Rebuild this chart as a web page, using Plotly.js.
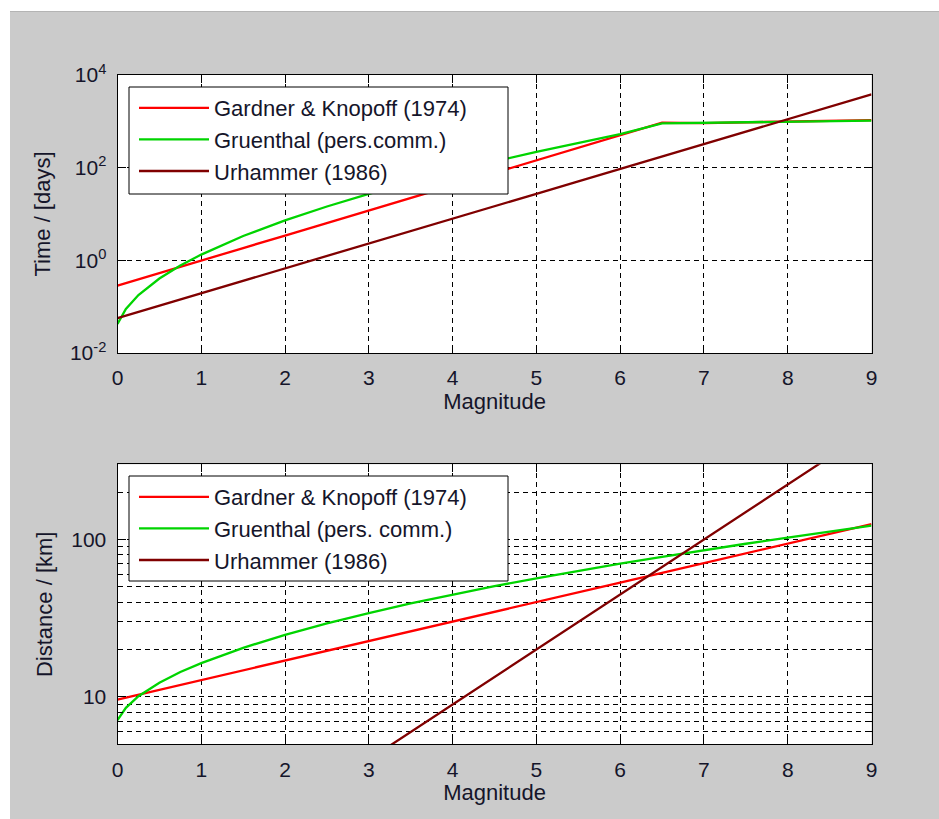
<!DOCTYPE html>
<html><head><meta charset="utf-8">
<script src="https://cdn.plot.ly/plotly-3.0.1.min.js"></script>
<style>
html,body{margin:0;padding:0;background:#ffffff;width:939px;height:819px;overflow:hidden}
#chart{position:absolute;left:10px;top:11px;width:929px;height:808px;border-top:1px solid #b4b4b4;box-sizing:border-box}
</style></head><body><div id="chart"></div>
<script>
// Magnitude samples (x axis)
const magnitude = [0, 0.1, 0.25, 0.5, 0.75, 1, 1.5, 2, 2.5, 3, 3.5, 4, 4.5, 5, 5.5, 6, 6.5, 7, 7.5, 8, 8.5, 9];
// Time window [days]
const gkTime = [0.284, 0.321, 0.388, 0.529, 0.723, 0.986, 1.84, 3.43, 6.39, 11.9, 22.2, 41.4, 77.1, 144, 268, 499, 931, 918, 953, 988, 1025, 1064];
const gruTime = [0.0423, 0.0892, 0.178, 0.405, 0.770, 1.33, 3.35, 7.30, 14.5, 27.2, 48.2, 82.3, 136, 219, 344, 531, 904, 929, 955, 982, 1009, 1038];
const urhTime = [0.0567, 0.0642, 0.0772, 0.105, 0.143, 0.195, 0.362, 0.670, 1.24, 2.31, 4.27, 7.93, 14.7, 27.3, 50.5, 93.7, 174, 322, 597, 1108, 2054, 3809];
// Distance window [km]
const gkDist = [9.62, 9.90, 10.3, 11.1, 11.9, 12.8, 14.8, 17.0, 19.6, 22.6, 26.1, 30.1, 34.7, 40.0, 46.1, 53.2, 61.3, 70.7, 81.6, 94.1, 108.5, 125.1];
const gruDist = [7.12, 8.52, 10.1, 12.3, 14.4, 16.4, 20.5, 24.8, 29.3, 34.1, 39.2, 44.7, 50.5, 56.6, 63.2, 70.2, 77.6, 85.6, 93.9, 102.8, 112.3, 122.2];
const urhDist = [0.359, 0.389, 0.439, 0.537, 0.656, 0.803, 1.20, 1.79, 2.68, 4.01, 5.99, 8.95, 13.4, 20.0, 29.9, 44.7, 66.8, 99.9, 149.3, 223.2, 333.6, 498.7];

const seriesNames = ['Gardner & Knopoff (1974)', 'Gruenthal (pers.comm.)', 'Urhammer (1986)'];
const seriesNames2 = ['Gardner & Knopoff (1974)', 'Gruenthal (pers. comm.)', 'Urhammer (1986)'];
const seriesColors = ['#ff0000', '#00d400', '#800000'];

const xTicks = [0, 1, 2, 3, 4, 5, 6, 7, 8, 9];
const timeTicks = [0.01, 1, 100, 10000];
const timeTickText = ['10<sup>-2</sup>', '10<sup>0</sup>', '10<sup>2</sup>', '10<sup>4</sup>'];
const distTicks = [10, 100];
const distTickText = ['10', '100'];
const distMinor = [6, 7, 8, 9, 20, 30, 40, 50, 60, 70, 80, 90, 200];

const W = 929, H = 808;
const px = v => v / W;
const py = v => 1 - v / H;
const xDom = [107.5 / W, 861.5 / W];

const topY = [gkTime, gruTime, urhTime];
const botY = [gkDist, gruDist, urhDist];
const traces = [];
topY.forEach((ys, i) => traces.push({
  x: magnitude, y: ys, type: 'scatter', mode: 'lines', name: seriesNames[i],
  line: {color: seriesColors[i], width: 2.3}, xaxis: 'x', yaxis: 'y', legend: 'legend'
}));
botY.forEach((ys, i) => traces.push({
  x: magnitude, y: ys, type: 'scatter', mode: 'lines', name: seriesNames2[i],
  line: {color: seriesColors[i], width: 2.3}, xaxis: 'x2', yaxis: 'y2', legend: 'legend2'
}));

const axBase = {
  showline: true, linecolor: '#000', linewidth: 1, mirror: 'ticks',
  ticks: 'inside', ticklen: 8, tickcolor: '#000', tickwidth: 1,
  showgrid: true, gridcolor: '#000', gridwidth: 1, griddash: '5px,4px',
  zeroline: false, tickfont: {size: 21, color: '#15152a'}
};
const xAx = (anchor) => Object.assign({}, axBase, {
  domain: xDom, anchor: anchor, range: [0, 9], tickmode: 'array', tickvals: xTicks,
  ticklabelstandoff: 6,
  title: {text: 'Magnitude', font: {size: 22, color: '#15152a'}, standoff: 5}
});

const legendBase = {
  xanchor: 'left', yanchor: 'top', bgcolor: 'rgba(0,0,0,0)', borderwidth: 0,
  font: {size: 22, color: '#15152a'}, itemwidth: 70, tracegroupgap: 0
};

const layout = {
  width: W, height: H, margin: {l: 0, r: 0, t: 0, b: 0},
  paper_bgcolor: '#cbcbcb', plot_bgcolor: '#ffffff',
  font: {family: 'Liberation Sans, Arial, sans-serif', size: 21, color: '#15152a'},
  showlegend: true,
  xaxis: xAx('y'),
  yaxis: Object.assign({}, axBase, {
    domain: [py(341), py(63)], anchor: 'x', type: 'log', range: [-2, 4],
    tickmode: 'array', tickvals: timeTicks, ticktext: timeTickText, ticklabelstandoff: 6,
    title: {text: 'Time / [days]', font: {size: 22, color: '#15152a'}, standoff: 13}
  }),
  xaxis2: xAx('y2'),
  yaxis2: Object.assign({}, axBase, {
    domain: [py(732.3), py(452.3)], anchor: 'x2', type: 'log', range: [Math.log10(5), Math.log10(300)],
    tickmode: 'array', tickvals: distTicks, ticktext: distTickText, ticklabelstandoff: 6,
    minor: {tickmode: 'array', tickvals: distMinor, ticks: 'inside', ticklen: 5, tickcolor: '#000',
            showgrid: true, gridcolor: '#000', gridwidth: 1, griddash: '5px,4px'},
    title: {text: 'Distance / [km]', font: {size: 22, color: '#15152a'}, standoff: 12}
  }),
  legend: Object.assign({}, legendBase, {x: px(124), y: py(75)}),
  legend2: Object.assign({}, legendBase, {x: px(124), y: py(464)}),
  shapes: [
    {type: 'rect', xref: 'paper', yref: 'paper', x0: px(119), x1: px(498), y0: py(182), y1: py(75),
     fillcolor: '#ffffff', line: {color: '#000', width: 1}, layer: 'above'},
    {type: 'rect', xref: 'paper', yref: 'paper', x0: px(119), x1: px(498), y0: py(569), y1: py(464),
     fillcolor: '#ffffff', line: {color: '#000', width: 1}, layer: 'above'}
  ]
};

Plotly.newPlot('chart', traces, layout, {displayModeBar: false, staticPlot: true});
</script></body></html>
